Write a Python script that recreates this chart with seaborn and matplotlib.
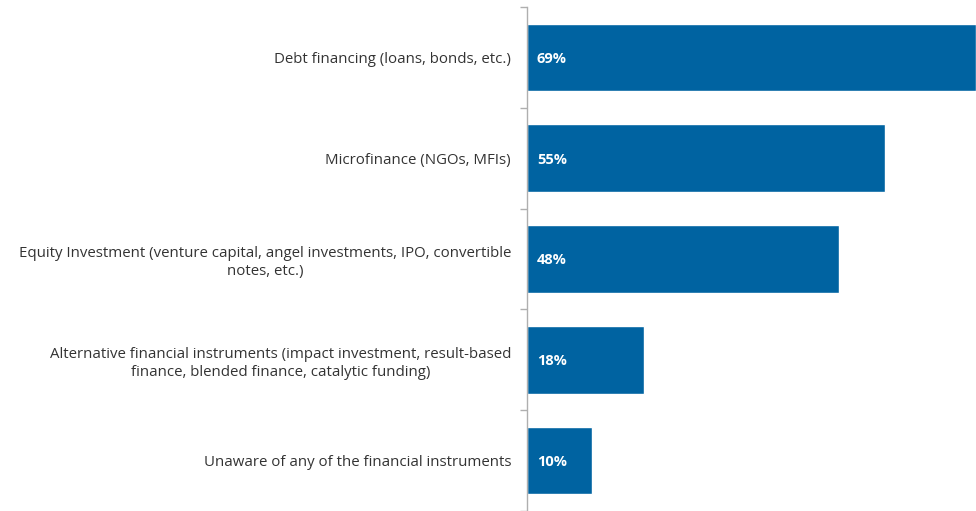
import seaborn as sns
import matplotlib.pyplot as plt
import pandas as pd

# survey answers, percent of respondents
categories = [
    "Debt financing (loans, bonds, etc.)",
    "Microfinance (NGOs, MFIs)",
    "Equity Investment (venture capital, angel investments, IPO, convertible\nnotes, etc.)",
    "Alternative financial instruments (impact investment, result-based\nfinance, blended finance, catalytic funding)",
    "Unaware of any of the financial instruments",
]
shares = [69, 55, 48, 18, 10]

df = pd.DataFrame({"Instrument": categories, "Share": shares})

sns.set_style("white")
plt.rcParams['font.family'] = ['Open Sans', 'DejaVu Sans']

fig = plt.figure(figsize=(9.76, 5.11), dpi=100)
ax = fig.add_axes([0.54, 0.0, 0.46, 0.9863])

sns.barplot(data=df, y="Instrument", x="Share", orient="h",
            color="#0063A1", width=0.67, saturation=1, ax=ax)

ax.set_xlim(0, 69)
ax.set_ylim(4.5, -0.5)
ax.set_xlabel("")
ax.set_ylabel("")
ax.set_xticks([])

for s in ["top", "right", "bottom"]:
    ax.spines[s].set_visible(False)
ax.spines["left"].set_color("#AFAFAF")
ax.spines["left"].set_linewidth(1.0)

ax.set_yticks(range(len(categories)))
ax.set_yticklabels(categories, ha="right", multialignment="center",
                   fontsize=10.85, color="#333333", linespacing=1.3)
ax.tick_params(axis="y", which="major", length=0, pad=11.5)
ax.set_yticks([i + 0.5 for i in range(-1, len(categories))], minor=True)
ax.tick_params(axis="y", which="minor", length=5, color="#AFAFAF", width=1.0, left=True)

for p, v in zip(ax.patches, shares):
    ax.annotate(f"{v}%", (0, p.get_y() + p.get_height() / 2),
                xytext=(7, -1), textcoords="offset points",
                ha="left", va="center", color="white",
                fontsize=10.5, fontweight="bold")

fig.savefig("out.png", dpi=100)
